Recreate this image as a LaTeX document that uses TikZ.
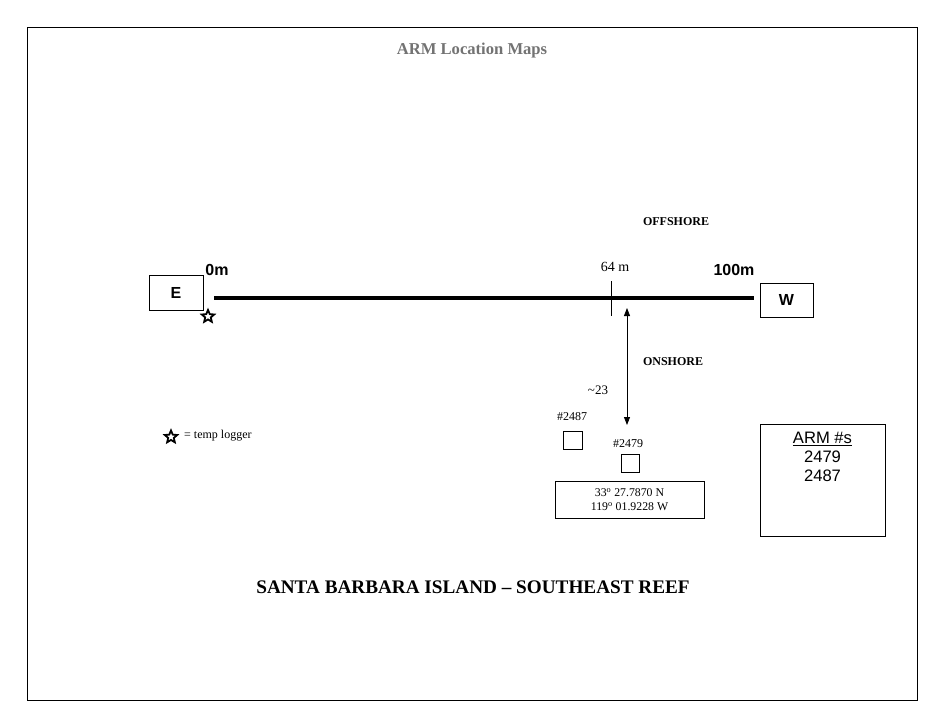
\documentclass[tikz,border=0pt]{standalone}
\usepackage{fontspec}
\setmainfont{Liberation Serif}
\setsansfont{Liberation Sans}
\usetikzlibrary{shapes.geometric,arrows.meta}
\tikzset{
  frame/.style={draw=black,line width=0.8pt},
  lbox/.style={draw=black,line width=0.8pt,inner sep=0pt},
  sbold/.style={font=\fontsize{16}{18}\selectfont\sffamily\bfseries,inner sep=0pt},
  small/.style={font=\fontsize{12}{14}\selectfont,inner sep=0pt},
  sbl/.style={font=\fontsize{12}{14}\selectfont\bfseries,inner sep=0pt},
  logger/.style={star,star points=5,star point ratio=2.2,draw=black,line width=1.8pt,minimum size=13pt,inner sep=0pt,fill=white},
  tip/.style={Triangle[length=8pt,width=6pt]},
}
\begin{document}
\begin{tikzpicture}[x=1pt,y=-1pt]
\useasboundingbox (0,0) rectangle (945,728);
\fill[white] (0,0) rectangle (945,728);
\draw[frame] (27,27) rectangle (917,700);
\node[font=\fontsize{16.6}{18}\selectfont\bfseries,text=black!55,inner sep=0pt] (title) at (472,51) {ARM Location Maps};
% E and W boxes
\node[lbox,minimum width=54pt,minimum height=35pt,sbold] (E) at (176,292.5) {E};
\node[lbox,minimum width=53pt,minimum height=34pt,sbold] (W) at (786.5,300) {W};
\node[logger] (star1) at (208,316.5) {};
\node[sbold] (zero) at (217,270) {0m};
\node[sbold] (hund) at (734,270) {100m};
% transect
\coordinate (t0) at (214,298);
\coordinate (t1) at (754,298);
\draw[line width=3.5pt] (t0) -- (t1);
\coordinate (k0) at (611,281);
\coordinate (k1) at (611,316);
\draw[line width=0.8pt] (k0) -- (k1);
\node[font=\fontsize{14}{16}\selectfont,inner sep=0pt] (m64) at (615,267) {64 m};
\node[sbl] (off) at (676,222) {OFFSHORE};
\node[sbl] (on) at (673,362) {ONSHORE};
% arrow
\coordinate (a0) at (627,308);
\coordinate (a1) at (627,425);
\draw[line width=0.8pt,{Triangle[length=8pt,width=6pt]}-{Triangle[length=8pt,width=6pt]}] (a0) -- (a1);
\node[font=\fontsize{13}{15}\selectfont,inner sep=0pt] (d23) at (598,390) {\textasciitilde23};
% ARMs
\node[small] (l2487) at (572,417) {\#2487};
\node[lbox,minimum width=19pt,minimum height=18pt] (b2487) at (572.5,440) {};
\node[small] (l2479) at (628,444) {\#2479};
\node[lbox,minimum width=18pt,minimum height=18pt] (b2479) at (630,463) {};
\node[lbox,minimum width=149pt,minimum height=37pt,align=center,font=\fontsize{11.8}{14}\selectfont] (coord) at (629.5,499.5) {33\textsuperscript{o} 27.7870 N\\119\textsuperscript{o} 01.9228 W};
% legend
\node[logger] (star2) at (171,437) {};
\node[small,anchor=west] (leg) at (184,436) {= temp logger};
% ARM #s box
\node[lbox,minimum width=125pt,minimum height=112pt] (armbox) at (822.5,480) {};
\node[font=\fontsize{16.6}{19}\selectfont\sffamily,inner sep=0pt,align=center,anchor=north] (armtxt) at (822.5,432) {\underline{ARM \#s}\\2479\\2487};
% caption
\node[font=\fontsize{19.2}{21}\selectfont\bfseries,inner sep=0pt] (cap) at (473,587) {SANTA BARBARA ISLAND -- SOUTHEAST REEF};
\end{tikzpicture}
\end{document}
